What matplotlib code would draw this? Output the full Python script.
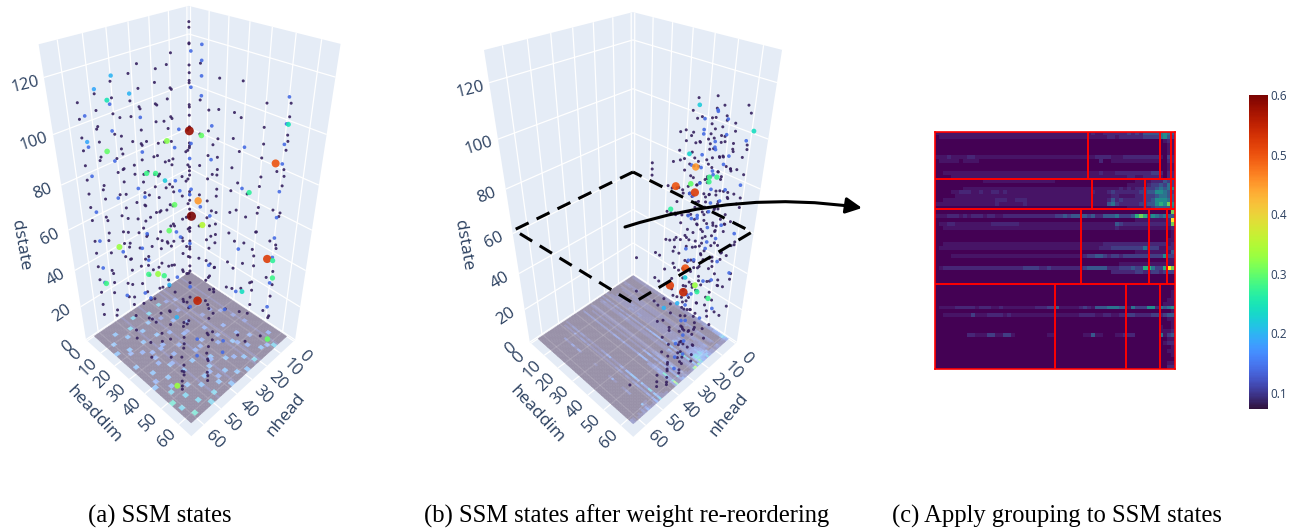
import numpy as np
import matplotlib
matplotlib.use("Agg")
import matplotlib.pyplot as plt
from matplotlib.collections import PolyCollection
from matplotlib.colors import Normalize
from matplotlib.cm import ScalarMappable
from matplotlib.patches import FancyArrowPatch, Polygon

plt.rcParams['font.family'] = ['Open Sans', 'DejaVu Sans']

# heatmap levels for panel (c), one string per row, one digit per cell
LEVEL_ROWS = [
    "1111111111 1111111111 1111111111 1111111112 1122222232 3244445654",
    "0111111111 1111111111 1111111111 1111111111 1112212222 2233335643",
    "0000000000 0000000000 0000000000 0000000000 0000000000 0000000121",
    "0000000000 0000000000 0000000000 0000000000 0000000000 0000000011",
    "0000000000 0000000000 0000000000 0000000000 0000000000 0000000011",
    "0000000000 0000000000 0000000000 0000000000 0000000000 0000000011",
    "1112111122 1111111111 1111111111 1111111111 2222111222 2222221032",
    "0111110111 1000000000 0000000000 0000000000 0200111111 1111110022",
    "0000000000 0000000000 0000000000 0000000000 0000000000 0000000011",
    "0000000000 0000000000 0000000000 0000000000 0000000000 0000000011",
    "0011111111 1111111111 1111111111 1111111111 1211122222 2222332022",
    "0000111111 1111111111 1111111111 1111111111 1111111122 1122221022",
    "0000000000 0011111111 1111111111 0000000000 0000000000 1111222433",
    "0000000000 0000000000 0000000000 0000000000 0000000011 1112334353",
    "0000000111 1111111111 1111111111 1111111111 1111112121 2233345456",
    "0000112221 1211221211 1111111111 1111111112 1112322222 2334466543",
    "0000011111 1111111111 1111111111 1111111111 1111221111 2233345544",
    "0011111111 1111122211 2221111111 1111111111 1112423222 2233466654",
    "1111111111 1111121111 1121111111 1111111111 1114532222 2334467686",
    "0000000000 0000000000 0000000000 0000000000 0000000011 1122344445",
    "0000000000 0000000000 0000000000 0000000000 0000000000 0000000008",
    "1112221212 2212211222 2222222222 3343444434 2244453334 7874654544",
    "0000000000 0000000000 0000000000 0000000000 0000000000 1111111129",
    "0112211111 1111222222 2111111111 1111111111 1111143222 2222222228",
    "0011111111 1111111111 1111111111 1111111111 1111121111 1111111112",
    "0000000000 0000000000 0000000000 0000000000 0000000000 0000000001",
    "0000000000 0000000000 0000000000 0000000000 0000000000 0000000001",
    "0000000000 0000000000 0000000000 0000000000 0000000000 0000000011",
    "0011111111 1111111111 1111111111 1111111111 1122222222 2222222212",
    "0111111111 1111111111 1111111111 1111111111 1222333333 3353331122",
    "0000000000 0000000000 0000000000 0000000000 0000000000 1111111114",
    "0000111111 1111111111 1111111111 1111111233 4432332333 3333333633",
    "0000000000 0000000000 0000000000 0000000000 0000000000 0000000011",
    "0000000000 0000000000 0000000000 0000000000 0000001111 1111111111",
    "0122222222 2222222222 2233332232 2222222344 4442223334 3377533798",
    "0000000000 0000000000 0000000000 0000000000 0000222222 3322332333",
    "0000000000 0000000000 0000000000 0000000000 0000000000 0000000000",
    "0000000000 0000000000 0000000000 0000000000 0000000000 0000000000",
    "0000000000 0000000000 0000000000 0000000000 0000000000 0000000000",
    "0000000000 0000000000 0000000000 0000000000 0000000000 0000000000",
    "0000000000 0000000000 0000000000 0000000000 0000000000 0000000001",
    "0000000000 0000000000 0000000000 0000000000 0000000000 0000000001",
    "0000000000 0000000000 0000000000 0000000000 0000000000 0000000011",
    "0000000000 0000000000 0000000000 0000000000 0000000000 0000000111",
    "0111122222 1222112111 1111122233 4111112321 4445554415 3336625456",
    "0000000000 0000000000 0000000000 0000000000 0000000000 0000000001",
    "0011111113 1112222121 1111111111 1111112222 1122112233 2222332344",
    "0000000000 0000000000 0000000000 0000000000 0000000000 0000000011",
    "0000000000 0000000000 0000000000 0000000000 0000000000 0000000001",
    "0000000000 0000000000 0000000000 0000000000 0000000000 0000001001",
    "0000000000 0000000000 0000000000 0000000000 0000000000 0000001112",
    "0000000022 1113311331 0000000011 0000000114 1100011222 0000005134",
    "0000000000 0000000000 0000000000 0000000000 0000000000 0000000011",
    "0000000000 0000000000 0000000000 0000000000 0000000000 0000000122",
    "0000000000 0000000000 0000000000 0000000000 0000000000 0000000001",
    "0000000000 0000000000 0000000000 0000000000 0000000000 0000000011",
    "0000000000 0000000000 0000000000 0000000000 0000000000 0000000001",
    "0000000000 0000000000 0000000000 0000000000 0000000000 0000000000",
    "0000000000 0000000000 0000000000 0000000000 0000000000 0000000011",
    "0000000000 0000000000 0000000000 0000000000 0000000000 0000000022",
]
LEVEL_VALUES = [0.075, 0.09, 0.105, 0.125, 0.15, 0.18, 0.21, 0.25, 0.29, 0.35]

# red group boundaries in panel (c), in cells
ROW_SPLITS = [12, 19.5, 38.5]
COL_SPLITS = [
    [38.3, 56.2, 59.0],
    [39.2, 52.5, 59.0],
    [36.5, 53.5, 58.0],
    [30.0, 47.7, 56.2],
]

# spots on the floor of panel (a): nhead cell, headdim cell, level
FLOOR_A_ROW = [3, 5, 7, 8, 10, 12, 12, 14, 15, 16, 18, 18, 19, 21, 21, 22, 23, 24, 25, 26, 27, 27, 28, 29, 30,
               31, 31, 32, 33, 33, 34, 35, 35, 36, 37, 38, 38, 39, 40, 40, 41, 42, 43, 43, 44, 44, 45, 46, 46, 47,
               48, 48, 49, 50, 50, 51, 52, 52, 53, 54, 55, 55, 56, 57, 57, 58, 58, 58,
               6, 9, 13, 17, 20, 24, 28, 32, 36, 41, 45, 49, 53, 56, 11, 22, 30, 37, 47, 54]
FLOOR_A_COL = [52, 40, 58, 28, 47, 18, 55, 35, 50, 24, 8, 44, 57, 30, 53, 14, 40, 22, 58, 5, 34, 48, 17, 56, 26,
               12, 43, 52, 6, 36, 21, 46, 58, 29, 10, 39, 54, 18, 3, 48, 31, 12, 25, 56, 40, 50, 7, 17, 34, 58,
               27, 46, 10, 21, 54, 38, 5, 49, 16, 32, 44, 57, 9, 25, 52, 38, 14, 48,
               34, 56, 42, 46, 37, 50, 26, 44, 52, 24, 34, 30, 42, 36, 24, 6, 36, 48, 24, 18]
FLOOR_A_LEVEL = [4, 3, 6, 3, 4, 3, 5, 4, 4, 3, 3, 5, 6, 4, 5, 3, 4, 4, 5, 6, 4, 5, 4, 5, 4,
                 3, 5, 5, 6, 4, 4, 5, 5, 4, 5, 5, 5, 5, 6, 5, 4, 5, 4, 6, 5, 5, 6, 5, 5, 6,
                 4, 5, 5, 4, 6, 5, 5, 6, 5, 5, 6, 7, 5, 5, 6, 5, 5, 7,
                 3, 4, 4, 4, 4, 4, 3, 4, 4, 4, 4, 4, 4, 4, 3, 3, 4, 4, 4, 4]

# panel (a) scatter columns: nhead, headdim, dstate values
DARK_A = [
    (58, 3, [110, 104, 97, 92, 86, 80, 74, 68, 62, 52, 46, 39, 32, 25, 18, 12]),
    (52, 5, [112, 106, 100, 94, 88, 76, 70, 60, 54, 44, 33, 28, 12]),
    (44, 4, [114, 108, 102, 94, 84, 78, 68, 58, 50, 44, 37, 22, 14]),
    (38, 7, [116, 106, 100, 90, 80, 76, 63, 55, 48, 40, 30, 20, 8]),
    (47, 12, [104, 97, 90, 84, 73, 62, 50, 42, 36, 21, 10]),
    (33, 6, [118, 109, 102, 87, 80, 70, 59, 51, 43, 27]),
    (40, 15, [106, 98, 92, 80, 72, 66, 52, 41, 31, 17, 5]),
    (30, 12, [112, 104, 97, 83, 74, 64, 57, 47, 38, 30, 16]),
    (52, 18, [96, 88, 83, 72, 61, 54, 48, 35, 24, 9, 4]),
    (26, 16, [110, 99, 89, 79, 69, 60, 51, 42, 29, 13]),
    (35, 22, [102, 94, 86, 75, 65, 49, 37, 26, 11, 3]),
    (22, 10, [116, 103, 91, 77, 66, 56, 45, 34, 23]),
    (44, 26, [93, 86, 81, 70, 58, 44, 33, 19, 7, 2]),
    (18, 18, [114, 101, 93, 85, 72, 60, 53, 46, 39, 30, 22, 15, 6]),
    (28, 27, [98, 90, 84, 78, 67, 55, 41, 32, 12, 4]),
    (12, 12, [122, 108, 94, 82, 71, 59, 50, 40, 28, 18]),
    (38, 34, [86, 78, 68, 58, 52, 43, 27, 15, 6, 2]),
    (8, 8, [128, 126, 120, 112, 105, 96, 86, 77, 66, 54, 42, 34, 25]),
    (50, 46, [72, 58, 44, 30, 18, 8, 4, 2]),
    (20, 30, [104, 96, 86, 76, 66, 58, 47, 36, 25, 13]),
    (10, 26, [112, 100, 88, 80, 72, 62, 48, 38, 24, 11]),
    (28, 42, [88, 80, 70, 60, 44, 31, 19, 8, 3]),
    (15, 38, [104, 94, 82, 72, 62, 52, 37, 23, 10]),
    (6, 34, [112, 98, 84, 70, 57, 41, 26, 14]),
    (20, 50, [78, 68, 56, 46, 33, 20, 6]),
    (10, 48, [100, 88, 76, 64, 55, 43, 29, 16]),
    (4, 44, [106, 90, 76, 62, 50, 32, 18]),
    (14, 58, [88, 72, 58, 40, 22, 7]),
    (6, 56, [96, 82, 66, 49, 30, 12]),
    (2, 53, [108, 103, 96, 90, 82, 75, 61, 47, 33, 19, 6]),
    (55, 50, [20, 12, 6, 3, 1]),
    (45, 55, [22, 14, 5, 2]),
    (56, 10, [102, 90, 78, 66, 55, 40, 28, 15]),
    (24, 6, [114, 100, 84, 70, 52, 36]),
    (16, 6, [118, 104, 92, 74, 58, 40]),
    (42, 20, [96, 84, 74, 64, 50, 38, 22, 8]),
    (32, 30, [92, 80, 64, 50, 36, 20, 7]),
    (24, 36, [94, 82, 66, 54, 40, 26, 9]),
    (12, 18, [116, 102, 88, 74, 60, 44, 26]),
    (36, 46, [70, 60, 46, 32, 16, 4]),
    (42, 52, [54, 38, 24, 10, 2]),
    (25, 58, [60, 44, 28, 12]),
    (48, 36, [64, 46, 30, 14, 3]),
    (54, 30, [70, 56, 40, 26, 12, 3]),
]
BLUE_A = [
    (55, 2, [104, 92, 80, 64, 50, 36, 28]),
    (48, 8, [108, 98, 86, 70, 44, 20]),
    (36, 10, [100, 86, 66, 48, 34, 12]),
    (30, 22, [90, 76, 52, 28]),
    (24, 24, [84, 68, 44, 20, 8]),
    (9, 10, [118, 104, 80, 58]),
    (5, 12, [120, 114, 108, 100, 48]),
    (16, 28, [96, 82, 56, 30]),
    (8, 38, [88, 70, 40, 16]),
    (2, 52, [110, 100, 92, 84, 72, 60, 50, 40, 26, 12]),
    (40, 44, [36, 14, 4]),
    (30, 50, [28, 10, 3]),
    (18, 12, [90, 62, 38]),
    (44, 16, [76, 48, 24]),
]
HI_A_NHEAD = [10, 5, 18, 18.5, 11.5, 6.5, 19.5, 9.5, 21.5, 46.5, 36.5, 34, 30.5, 7, 26, 24, 0, 46.5, 49.5, 42, 38.5,
              54, 44, 30, 34, 28, 53, 10.5, 2.5, 1.5, 24.5, 29, 55, 8]
HI_A_HEADDIM = [10, 51, 23, 19.5, 19.5, 52.5, 24.5, 16.5, 8.5, 1.5, 12.5, 15, 16.5, 41, 17, 11, 51.5, 4.5, 1.5, 2, 7.5,
                0, 0, 9, 7, 11, 0, 43.5, 53.5, 52, 10.5, 20, 47, 58]
HI_A_DSTATE = [86, 85, 62, 53, 45, 42, 9, 86, 85, 87, 78, 78, 74, 69, 61, 44, 99, 108, 112, 115, 109,
               93, 40, 22, 23, 21, 25, 21, 30, 38, 13, 2, 0.5, 0.5]
HI_A_VALUE = [0.58, 0.5, 0.45, 0.6, 0.35, 0.52, 0.55, 0.3, 0.32, 0.3, 0.28, 0.28, 0.22, 0.27, 0.3, 0.3, 0.25, 0.25, 0.19, 0.2, 0.2,
              0.19, 0.33, 0.33, 0.28, 0.28, 0.28, 0.24, 0.28, 0.27, 0.2, 0.2, 0.33, 0.3]

# panel (b) scatter columns
DARK_B = [
    (1, 60, [108, 96, 74, 52, 34]),
    (4, 56, [104, 94, 86, 76, 66, 58, 44, 30]),
    (6, 52, [110, 102, 96, 90, 84, 74, 68, 60, 50, 38, 22]),
    (8, 55, [106, 98, 92, 84, 78, 70, 62, 54, 42, 28, 14]),
    (5, 48, [112, 104, 96, 88, 80, 72, 64, 52, 40, 26]),
    (10, 50, [106, 100, 94, 88, 82, 74, 66, 58, 47, 35, 20, 8]),
    (12, 56, [102, 94, 88, 80, 72, 66, 60, 49, 37, 24, 10]),
    (8, 44, [104, 94, 84, 76, 68, 60, 46, 33, 18]),
    (14, 52, [100, 92, 84, 78, 70, 62, 54, 43, 31, 16, 5]),
    (10, 42, [98, 90, 80, 72, 62, 51, 39, 25, 12]),
    (16, 48, [92, 84, 76, 68, 56, 45, 32, 19, 7]),
    (18, 56, [86, 78, 70, 62, 54, 41, 29, 15, 4]),
    (6, 38, [104, 94, 82, 72, 60, 48, 30]),
    (14, 42, [96, 84, 74, 64, 52, 36, 21]),
    (20, 50, [80, 72, 64, 56, 44, 27, 13, 3]),
    (3, 30, [92, 84, 60, 36]),
    (24, 60, [54, 42, 30, 21, 12, 6, 2]),
    (26, 54, [46, 36, 26, 17, 9, 4, 1]),
    (22, 45, [70, 52, 38, 24, 10]),
    (32, 60, [28, 20, 14, 8, 3, 1]),
    (34, 55, [24, 16, 9, 4, 1]),
    (40, 60, [14, 9, 5, 2, 0.5]),
    (30, 48, [34, 22, 12, 3]),
    (44, 58, [8, 4, 1]),
    (52, 50, [2]),
    (2, 14, [72, 69, 66]),
    (30, 32, [46, 28]),
    (3, 45, [100, 92, 78, 64, 46]),
    (7, 58, [98, 88, 76, 64, 50, 36, 18]),
    (11, 46, [96, 88, 78, 68, 56, 42, 30, 14]),
    (13, 60, [92, 82, 70, 58, 44, 30, 16]),
    (17, 52, [84, 76, 66, 58, 48, 36, 22, 9]),
    (18, 42, [78, 66, 54, 42, 28, 14]),
    (22, 56, [70, 60, 50, 40, 28, 16, 6]),
    (28, 58, [38, 30, 22, 14, 6, 2]),
    (12, 38, [86, 74, 62, 50, 34, 18]),
    (2, 55, [100, 92, 84, 72, 60, 46, 28]),
    (1, 50, [104, 96, 88, 78, 68, 54, 38]),
    (2, 46, [106, 98, 90, 82, 70, 56, 42]),
    (0, 58, [110, 90, 70, 50]),
    (4, 62, [96, 86, 72, 56, 40, 22]),
    (9, 62, [90, 80, 68, 52, 36, 20]),
    (16, 60, [78, 66, 54, 42, 26, 10]),
    (7, 36, [96, 84, 70, 54, 38]),
    (9, 32, [82, 70, 58, 44]),
    (14, 34, [74, 62, 48, 32]),
    (3, 38, [108, 100, 90, 80]),
    (16, 30, [40, 26, 12]),
    (20, 36, [44, 30, 16, 6]),
]
BLUE_B = [
    (3, 52, [104, 98, 86, 70, 52, 30]),
    (7, 50, [108, 96, 84, 66, 48]),
    (9, 46, [100, 90, 78, 62, 41, 22]),
    (12, 54, [96, 86, 74, 56, 36, 15]),
    (5, 43, [102, 96, 82, 60]),
    (15, 46, [88, 76, 66, 50, 28, 10]),
    (6, 56, [92, 78, 62, 44, 18]),
    (18, 50, [78, 68, 48, 24, 6]),
    (25, 56, [38, 24, 12, 4]),
    (33, 58, [18, 10, 3]),
    (2, 60, [98, 80, 58, 38]),
    (4, 48, [106, 92, 74, 56]),
]
HI_B_NHEAD = [1, 15, 20, 17, 10, 10, 8, 16, 20, 18, 14, 8, 11.5, 7, 6, 4, 10.5, 6, 9, 8]
HI_B_HEADDIM = [62, 48, 43, 50, 51, 51, 53, 47, 41, 47, 47, 41, 35.5, 40, 47, 52, 31.5, 36, 42, 47]
HI_B_DSTATE = [102, 88, 80, 79, 83, 81, 83, 81, 69, 94, 111, 33, 22, 18, 22, 20, 5, 8, 29, 27]
HI_B_VALUE = [0.24, 0.45, 0.5, 0.52, 0.28, 0.28, 0.28, 0.3, 0.27, 0.23, 0.22, 0.5, 0.52, 0.55, 0.27, 0.28, 0.2, 0.2, 0.22, 0.33]

X_RANGE = (-1, 67)
Y_RANGE = (-1, 67)
Z_RANGE = (0, 130.5)
FLOOR_MAX = 63
TICKS_XY = [0, 10, 20, 30, 40, 50, 60]
TICKS_Z = [0, 20, 40, 60, 80, 100, 120]

# box corners on the canvas: back, left, right, front, back top, left top, right top
BOX_A = [(190, 270), (86, 340), (295, 340), (191, 436), (188, 6), (39, 44), (341, 44)]
BOX_B = [(633, 274), (530, 342), (737, 342), (633, 437), (633, 12), (484, 50), (782, 50)]

TEXT_COLOR = '#2a3f5f'
WALL_COLOR = '#E5ECF6'
FLOOR_ALPHA = 0.42
norm = Normalize(0.073, 0.6)


def fit_camera(box_px):
    x0, x1 = X_RANGE
    y0, y1 = Y_RANGE
    z0, z1 = Z_RANGE
    world = [(x0, y0, z0), (x1, y0, z0), (x0, y1, z0), (x1, y1, z0), (x0, y0, z1), (x1, y0, z1), (x0, y1, z1)]
    rows = []
    for (x, y, z), (u, v) in zip(world, box_px):
        rows.append([x, y, z, 1, 0, 0, 0, 0, -u * x, -u * y, -u * z, -u])
        rows.append([0, 0, 0, 0, x, y, z, 1, -v * x, -v * y, -v * z, -v])
    _, _, vt = np.linalg.svd(np.array(rows, dtype=float))
    return vt[-1].reshape(3, 4)


def project(cam, x, y, z):
    x, y, z = np.broadcast_arrays(np.asarray(x, float), np.asarray(y, float), np.asarray(z, float))
    pts = np.stack([x, y, z, np.ones_like(x)], axis=-1)
    uvw = pts @ cam.T
    return uvw[..., 0] / uvw[..., 2], uvw[..., 1] / uvw[..., 2]


def line3d(ax, cam, a, b, **kw):
    u, v = project(cam, [a[0], b[0]], [a[1], b[1]], [a[2], b[2]])
    ax.plot(u, v, solid_capstyle='butt', **kw)


def draw_box(ax, cam):
    x0, x1 = X_RANGE
    y0, y1 = Y_RANGE
    z0, z1 = Z_RANGE
    walls = [
        [(x0, y0, z0), (x1, y0, z0), (x1, y0, z1), (x0, y0, z1)],
        [(x0, y0, z0), (x0, y1, z0), (x0, y1, z1), (x0, y0, z1)],
        [(x0, y0, z0), (x1, y0, z0), (x1, y1, z0), (x0, y1, z0)],
    ]
    for wall in walls:
        wall = np.array(wall, float)
        u, v = project(cam, wall[:, 0], wall[:, 1], wall[:, 2])
        ax.add_patch(Polygon(np.c_[u, v], closed=True, fc=WALL_COLOR, ec='none', zorder=1))
    grid = dict(color='white', lw=0.9, zorder=2)
    for t in TICKS_XY:
        line3d(ax, cam, (t, y0, 0), (t, y0, z1), **grid)
        line3d(ax, cam, (x0, t, 0), (x0, t, z1), **grid)
        line3d(ax, cam, (t, y0, 0), (t, y1, 0), **grid)
        line3d(ax, cam, (x0, t, 0), (x1, t, 0), **grid)
    for t in TICKS_Z:
        line3d(ax, cam, (x0, y0, t), (x1, y0, t), **grid)
        line3d(ax, cam, (x0, y0, t), (x0, y1, t), **grid)


def draw_labels(ax, cam, ox):
    x0, x1 = X_RANGE
    y0, y1 = Y_RANGE
    for t in TICKS_XY:
        u, v = project(cam, x1, t, 0)
        ax.text(u - 12, v + 14, str(t), rotation=45, ha='center', va='center', rotation_mode='anchor',
                fontsize=12, color=TEXT_COLOR, zorder=3)
        u, v = project(cam, t, y1, 0)
        ax.text(u + 11, v + 15, str(t), rotation=-45, ha='center', va='center', rotation_mode='anchor',
                fontsize=12, color=TEXT_COLOR, zorder=3)
    for t in TICKS_Z:
        u, v = project(cam, x1, y0, t)
        ax.text(u - 19, v + 7, str(t), rotation=14 + (120 - t) * 0.2, ha='center', va='center',
                rotation_mode='anchor', fontsize=12, color=TEXT_COLOR, zorder=3)
    ax.text(ox + 94, 415, 'headdim', rotation=-47, ha='center', va='center', rotation_mode='anchor',
            fontsize=12.5, color=TEXT_COLOR)
    ax.text(ox + 286, 415, 'nhead', rotation=50, ha='center', va='center', rotation_mode='anchor',
            fontsize=12.5, color=TEXT_COLOR)
    ax.text(ox + 20, 245, 'dstate', rotation=-80, ha='center', va='center', rotation_mode='anchor',
            fontsize=12.5, color=TEXT_COLOR)


def draw_floor(ax, cam, matrix):
    # opaque cells blended over the wall colour, the seams of translucent cells would show
    step = FLOOR_MAX / matrix.shape[0]
    quads = []
    for r in range(matrix.shape[0]):
        for c in range(matrix.shape[1]):
            xs = np.array([r, r + 1, r + 1, r]) * step
            ys = np.array([c, c, c + 1, c + 1]) * step
            u, v = project(cam, xs, ys, 0)
            quads.append(np.c_[u, v])
    rgb = plt.get_cmap('turbo')(norm(matrix.ravel()))[:, :3]
    wall = np.array(matplotlib.colors.to_rgb(WALL_COLOR))
    rgb = FLOOR_ALPHA * rgb + (1 - FLOOR_ALPHA) * wall
    ax.add_collection(PolyCollection(quads, facecolors=rgb, edgecolors='face', linewidths=0.3, zorder=3))
    for t in TICKS_XY[1:]:
        line3d(ax, cam, (t, 0, 0), (t, FLOOR_MAX, 0), color='white', alpha=0.12, lw=0.9, zorder=3)
        line3d(ax, cam, (0, t, 0), (FLOOR_MAX, t, 0), color='white', alpha=0.12, lw=0.9, zorder=3)


def draw_points(ax, cam, nhead, headdim, dstate, value, zorder=4):
    u, v = project(cam, nhead, headdim, dstate)
    size = (2.0 + 12 * np.asarray(value)) * 0.72
    ax.scatter(u, v, s=size ** 2, c=value, cmap='turbo', norm=norm, linewidths=0, alpha=0.9, zorder=zorder)


def draw_columns(ax, cam, columns, value):
    nhead, headdim, dstate = [], [], []
    for x, y, zs in columns:
        nhead += [x] * len(zs)
        headdim += [y] * len(zs)
        dstate += zs
    draw_points(ax, cam, nhead, headdim, dstate, np.full(len(dstate), value))


level_matrix = np.array([[int(ch) for ch in row.replace(' ', '')] for row in LEVEL_ROWS])
value_matrix = np.array(LEVEL_VALUES)[level_matrix]

floor_a = np.full((60, 60), LEVEL_VALUES[0])
floor_a[[6, 18, 34, 44, 21], :] = LEVEL_VALUES[1]
for r, c, lv in zip(FLOOR_A_ROW, FLOOR_A_COL, FLOOR_A_LEVEL):
    floor_a[r:r + 2, c:c + 2] = LEVEL_VALUES[lv]

fig = plt.figure(figsize=(12.97, 5.31), dpi=100)
canvas = fig.add_axes([0, 0, 1, 1])
canvas.set_xlim(0, 1297)
canvas.set_ylim(531, 0)
canvas.axis('off')

# panel a
cam_a = fit_camera(BOX_A)
draw_box(canvas, cam_a)
draw_floor(canvas, cam_a, floor_a)
draw_labels(canvas, cam_a, 0)
draw_columns(canvas, cam_a, DARK_A, 0.085)
draw_columns(canvas, cam_a, BLUE_A, 0.14)
draw_points(canvas, cam_a, HI_A_NHEAD, HI_A_HEADDIM, HI_A_DSTATE, HI_A_VALUE)

# panel b
cam_b = fit_camera(BOX_B)
draw_box(canvas, cam_b)
draw_floor(canvas, cam_b, value_matrix)
draw_labels(canvas, cam_b, 443)
draw_columns(canvas, cam_b, DARK_B, 0.085)
draw_columns(canvas, cam_b, BLUE_B, 0.14)
draw_points(canvas, cam_b, HI_B_NHEAD, HI_B_HEADDIM, HI_B_DSTATE, HI_B_VALUE)

# dashed slice and arrow
canvas.add_patch(Polygon([(633, 172), (514, 230), (633, 303), (752, 232)], closed=True, fill=False, ec='black',
                         lw=2.2, linestyle=(0, (4.7, 2.9)), zorder=6))
canvas.add_patch(FancyArrowPatch((625, 227), (862, 208), connectionstyle='arc3,rad=-0.118', arrowstyle='-|>',
                                 mutation_scale=24, lw=2.2, color='black', shrinkA=0, shrinkB=0, zorder=7))

# panel c
heat = fig.add_axes([935 / 1297, 1 - 369 / 531, 240 / 1297, 237 / 531])
heat.imshow(value_matrix, cmap='viridis', vmin=LEVEL_VALUES[0], vmax=LEVEL_VALUES[-1], aspect='auto',
            interpolation='nearest', extent=(0, 60, 60, 0))
edges = [0] + ROW_SPLITS + [60]
for i, splits in enumerate(COL_SPLITS):
    heat.vlines(splits, edges[i], edges[i + 1], color='#ff0000', lw=1.4)
heat.hlines(ROW_SPLITS, 0, 60, color='#ff0000', lw=1.4)
heat.set_xticks([])
heat.set_yticks([])
for side in heat.spines.values():
    side.set_color('#ff0000')
    side.set_linewidth(1.2)

# colorbar
cax = fig.add_axes([1249 / 1297, 1 - 409 / 531, 19 / 1297, 314 / 531])
cbar = fig.colorbar(ScalarMappable(norm=norm, cmap='turbo'), cax=cax, ticks=[0.1, 0.2, 0.3, 0.4, 0.5, 0.6])
cbar.outline.set_visible(False)
cax.tick_params(length=0, pad=2, labelsize=8.5, labelcolor=TEXT_COLOR)

# captions
caption = dict(family='Liberation Serif', fontsize=17.7, ha='center', va='center', color='black')
canvas.text(159.5, 516, '(a) SSM states', **caption)
canvas.text(626.5, 516, '(b) SSM states after weight re-reordering', **caption)
canvas.text(1057, 516, '(c) Apply grouping to SSM states', **caption)

fig.savefig('out.png', dpi=100)
